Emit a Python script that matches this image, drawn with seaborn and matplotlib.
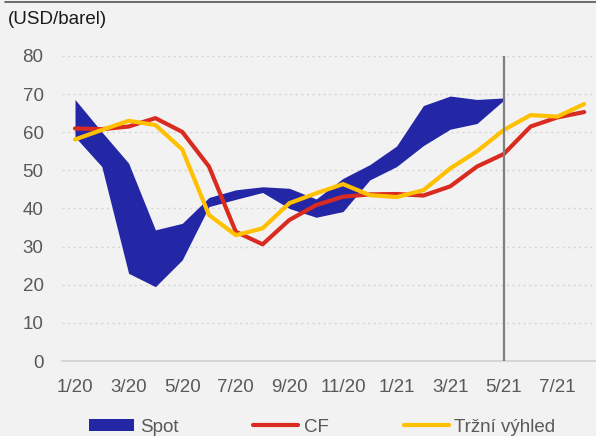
import matplotlib
matplotlib.use("Agg")
import matplotlib.pyplot as plt
from matplotlib.lines import Line2D
from matplotlib.patches import Patch
import numpy as np
import pandas as pd
import seaborn as sns

# Monthly categories Jan 2020 - Aug 2021
months = ["1/20", "2/20", "3/20", "4/20", "5/20", "6/20", "7/20", "8/20", "9/20", "10/20",
          "11/20", "12/20", "1/21", "2/21", "3/21", "4/21", "5/21", "6/21", "7/21", "8/21"]

# Spot price range (USD/barrel), observed through 5/21
spot_high = [68.6, 60.1, 51.9, 34.4, 36.1, 42.9, 44.9, 45.7, 45.3, 42.5,
             47.9, 51.5, 56.4, 67.0, 69.5, 68.6, 69.0]
spot_low = [58.8, 51.0, 23.0, 19.5, 26.5, 40.5, 42.4, 44.2, 40.0, 37.7,
            39.2, 47.5, 51.0, 56.5, 60.8, 62.3, 68.4]

# CF forecast path
cf = [61.0, 60.8, 61.5, 63.7, 60.1, 51.0, 33.9, 30.6, 37.0, 40.9,
      43.1, 43.7, 43.8, 43.4, 45.8, 51.0, 54.3, 61.5, 63.9, 65.3]

# Market outlook path
outlook = [58.1, 60.6, 63.0, 61.9, 55.5, 38.3, 33.0, 34.8, 41.4, 44.0,
           46.4, 43.5, 43.0, 44.8, 50.5, 55.0, 60.6, 64.5, 64.1, 67.4]

labels = ["Spot", "CF", "Tržní výhled"]
yticks = [0, 10, 20, 30, 40, 50, 60, 70, 80]

BG = "#f2f2f2"
BLUE = "#2327a5"
RED = "#d92b20"
GOLD = "#ffc000"
GREY_TXT = "#595959"
FS = 13.5

sns.set_theme(style="white")
plt.rcParams["font.family"] = ["Liberation Sans", "DejaVu Sans"]

fig = plt.figure(figsize=(5.96, 4.36), dpi=100, facecolor=BG)
ax = fig.add_axes([61.6 / 596, 75 / 436, 536 / 596, 305 / 436])
ax.set_facecolor(BG)

idx = np.arange(len(months))
df = pd.DataFrame({"i": idx, "CF": cf, "Outlook": outlook})

# Spot band
n_spot = len(spot_high)
ax.fill_between(idx[:n_spot], spot_low, spot_high, color=BLUE, linewidth=0, zorder=2)

sns.lineplot(data=df, x="i", y="CF", ax=ax, color=RED, linewidth=3, zorder=3)
sns.lineplot(data=df, x="i", y="Outlook", ax=ax, color=GOLD, linewidth=3, zorder=4)

# Marker for the last observed month
ax.axvline(n_spot - 1, color="#7f7f7f", linewidth=1.6, zorder=5)

ax.set_xlim(-0.5, len(months) - 0.5)
ax.set_ylim(0, 80)
ax.set_xlabel("")
ax.set_ylabel("")

ax.set_yticks(yticks)
ax.set_yticklabels([str(v) for v in yticks])
ax.yaxis.grid(True, linestyle=(0, (1.5, 2.5)), color="#d4d4d4", linewidth=1)
ax.xaxis.grid(False)

# Labels on every second month, tick marks on category boundaries
ax.set_xticks(idx[::2])
ax.set_xticklabels(months[::2])
ax.set_xticks(np.arange(-0.5, len(months) - 0.5, 2), minor=True)
ax.tick_params(axis="x", which="major", length=0, pad=13, labelsize=FS, labelcolor=GREY_TXT)
ax.tick_params(axis="x", which="minor", length=5, width=1.2, color="#d0d0d0", direction="out")
ax.tick_params(axis="y", length=0, pad=13, labelsize=FS, labelcolor=GREY_TXT)

for side in ["top", "right", "left"]:
    ax.spines[side].set_visible(False)
ax.spines["bottom"].set_color("#d0d0d0")
ax.spines["bottom"].set_linewidth(1.2)

fig.text(8 / 596, 1 - 20 / 436, "(USD/barel)", fontsize=FS, color="#1a1a1a", va="center", ha="left")

# Thin rule along the top edge
fig.add_artist(Line2D([5 / 596, 1.0], [1 - 2.5 / 436, 1 - 2.5 / 436], color="#555555", linewidth=1.2))

handles = [
    Patch(facecolor=BLUE, edgecolor="none"),
    Line2D([0], [0], color=RED, linewidth=3),
    Line2D([0], [0], color=GOLD, linewidth=3),
]
leg = fig.legend(handles, labels, loc="center", bbox_to_anchor=(0.541, 0.02), ncol=3,
                 frameon=False, fontsize=FS, handlelength=2.4, handleheight=0.6,
                 columnspacing=4.0, handletextpad=0.3)
for t in leg.get_texts():
    t.set_color(GREY_TXT)

fig.savefig("out.png", dpi=100, facecolor=BG)
